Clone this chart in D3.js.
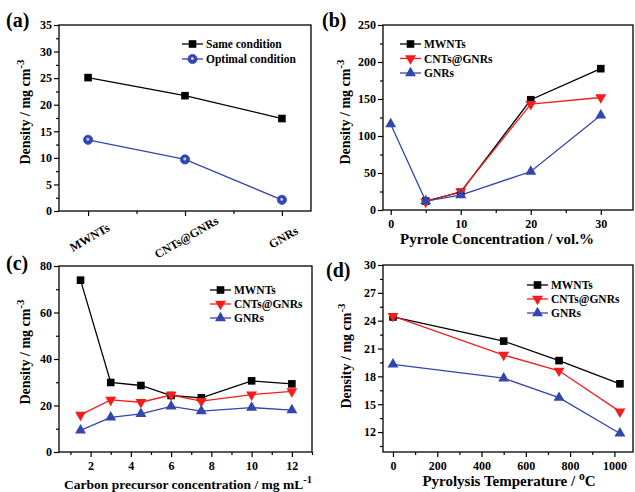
<!DOCTYPE html>
<html lang="en">
  <head>
    <meta charset="utf-8" />
    <style type="text/css">
      body {
        margin: 0;
        background: #fff;
      }
      svg text {
        font-family: "Liberation Serif", "Times New Roman", serif;
        font-weight: bold;
        fill: #000;
      }
    </style>
  </head>
  <body>
    <svg width="635" height="492"></svg>

    <script src="https://d3js.org/d3.v7.min.js" type="text/javascript"></script>
    <script type="text/javascript">
      // (a) density by material
      var catsA = ["MWNTs", "CNTs@GNRs", "GNRs"];
      var sameA = [25.1, 21.7, 17.4];
      var optimalA = [13.4, 9.7, 2.1];

      // (b) pyrrole concentration
      var pyrroleB = [0, 5, 10, 20, 30];
      var mwntsB = [null, 12, 24, 149, 191];
      var cntsB = [null, 11, 25, 143, 152];
      var gnrsB = [116, 12, 20, 52, 128];

      // (c) carbon precursor concentration
      var precursorC = [1.5, 3, 4.5, 6, 7.5, 10, 12];
      var mwntsC = [73.9, 29.9, 28.6, 24.3, 23.3, 30.6, 29.3];
      var cntsC = [16.0, 22.4, 21.4, 24.5, 21.9, 24.7, 26.1];
      var gnrsC = [9.3, 14.9, 16.4, 19.6, 17.6, 19.1, 18.0];

      // (d) pyrolysis temperature
      var tempD = [0, 500, 750, 1025];
      var mwntsD = [24.4, 21.8, 19.7, 17.2];
      var cntsD = [24.5, 20.3, 18.6, 14.2];
      var gnrsD = [19.3, 17.8, 15.7, 11.85];

      var BLACK = "#000000",
        RED = "#f41d1d",
        BLUE = "#3346ad";

      var svg = d3.select("svg");

      var defs = svg.append("defs");
      var grad = defs
        .append("radialGradient")
        .attr("id", "sphere")
        .attr("cx", "48%")
        .attr("cy", "45%")
        .attr("r", "55%");
      grad.append("stop").attr("offset", "0%").attr("stop-color", "#f0f2ff");
      grad.append("stop").attr("offset", "18%").attr("stop-color", "#b7c0ea");
      grad.append("stop").attr("offset", "40%").attr("stop-color", BLUE);

      function range(a, b, step) {
        var out = [];
        for (var v = a; v <= b + 1e-9; v += step) out.push(+v.toFixed(4));
        return out;
      }

      function marker(g, shape, cx, cy, color) {
        if (shape === "square") {
          g.append("rect")
            .attr("x", cx - 3.8)
            .attr("y", cy - 3.8)
            .attr("width", 7.6)
            .attr("height", 7.6)
            .attr("fill", color);
        } else if (shape === "sphere") {
          g.append("circle")
            .attr("cx", cx)
            .attr("cy", cy)
            .attr("r", 4.6)
            .attr("fill", "url(#sphere)")
            .attr("stroke", BLUE)
            .attr("stroke-width", 0.8);
        } else {
          g.append("path")
            .attr("d", d3.symbol().type(d3.symbolTriangle).size(52)())
            .attr("fill", color)
            .attr(
              "transform",
              "translate(" + cx + "," + cy + ")" + (shape === "down" ? " rotate(180)" : "")
            );
        }
      }

      function drawPanel(p) {
        var g = svg.append("g");
        var x = d3.scaleLinear().domain(p.xDomain).range([p.left, p.right]);
        var y = d3.scaleLinear().domain(p.yDomain).range([p.bottom, p.top]);

        // minor ticks
        g.append("g")
          .attr("transform", "translate(" + p.left + ",0)")
          .call(d3.axisLeft(y).tickValues(p.yMinor).tickSize(3).tickFormat(""));
        g.append("g")
          .attr("transform", "translate(0," + p.bottom + ")")
          .call(d3.axisBottom(x).tickValues(p.xMinor).tickSize(3).tickFormat(""));

        // major ticks
        g.append("g")
          .attr("transform", "translate(" + p.left + ",0)")
          .call(d3.axisLeft(y).tickValues(p.yMajor).tickSize(5).tickPadding(2));
        var xa = g
          .append("g")
          .attr("transform", "translate(0," + p.bottom + ")")
          .call(
            d3
              .axisBottom(x)
              .tickValues(p.xMajor)
              .tickSize(5)
              .tickPadding(4)
              .tickFormat(p.xFormat || d3.format("d"))
          );

        g.selectAll(".domain").remove();
        g.selectAll(".tick line").attr("stroke", "#000").attr("stroke-width", 1.2);
        g.selectAll(".tick text").attr("font-size", 12);

        if (p.rotateX) {
          xa.selectAll(".tick text")
            .attr("text-anchor", "middle")
            .attr("dy", 0)
            .attr("y", 0)
            .attr("transform", "translate(3,30) rotate(-30)");
        }

        // frame
        g.append("rect")
          .attr("x", p.left)
          .attr("y", p.top)
          .attr("width", p.right - p.left)
          .attr("height", p.bottom - p.top)
          .attr("fill", "none")
          .attr("stroke", "#000")
          .attr("stroke-width", 1.3);

        // series
        p.series.forEach(function (s) {
          var pts = s.values
            .map(function (v, i) {
              return { x: p.xs[i], y: v };
            })
            .filter(function (d) {
              return d.y !== null;
            });
          g.append("path")
            .datum(pts)
            .attr("fill", "none")
            .attr("stroke", s.color)
            .attr("stroke-width", 1.3)
            .attr(
              "d",
              d3
                .line()
                .x(function (d) {
                  return x(d.x);
                })
                .y(function (d) {
                  return y(d.y);
                })
            );
        });
        p.series.forEach(function (s) {
          s.values.forEach(function (v, i) {
            if (v === null) return;
            marker(g, s.shape, x(p.xs[i]), y(v), s.color);
          });
        });

        // legend
        p.series.forEach(function (s, i) {
          var ly = p.legend.y + i * p.legend.dy;
          g.append("line")
            .attr("x1", p.legend.x)
            .attr("x2", p.legend.x + 21)
            .attr("y1", ly)
            .attr("y2", ly)
            .attr("stroke", s.color)
            .attr("stroke-width", 1.3);
          marker(g, s.shape, p.legend.x + 10.5, ly, s.color);
          g.append("text")
            .attr("x", p.legend.x + 24)
            .attr("y", ly)
            .attr("dy", "0.35em")
            .attr("font-size", 11.5)
            .text(s.name);
        });

        // panel label
        g.append("text")
          .attr("x", p.label.x)
          .attr("y", p.label.y)
          .attr("font-size", 20)
          .text(p.label.text);

        // y title
        var yt = g
          .append("text")
          .attr("text-anchor", "middle")
          .attr("font-size", 14)
          .attr("transform", "translate(" + p.yTitle.x + "," + p.yTitle.y + ") rotate(-90)");
        yt.append("tspan").text("Density / mg cm");
        yt.append("tspan").attr("dy", -6).attr("font-size", 11).text("-3");

        // x title
        if (p.xTitle) {
          var xt = g
            .append("text")
            .attr("text-anchor", "middle")
            .attr("font-size", p.xTitle.size)
            .attr("x", p.xTitle.x)
            .attr("y", p.xTitle.y);
          xt.append("tspan").text(p.xTitle.text);
          if (p.xTitle.sup) {
            xt.append("tspan")
              .attr("dy", -6)
              .attr("font-size", p.xTitle.size * 0.78)
              .text(p.xTitle.sup);
            if (p.xTitle.after) xt.append("tspan").attr("dy", 6).text(p.xTitle.after);
          }
        }
      }

      drawPanel({
        left: 59, right: 311, top: 25, bottom: 211,
        xDomain: [0.7, 3.3], yDomain: [0, 35],
        xs: [1, 2, 3],
        xMajor: [1, 2, 3], xMinor: [1.5, 2.5],
        xFormat: function (d) { return catsA[d - 1]; },
        rotateX: true,
        yMajor: range(0, 35, 5), yMinor: range(2.5, 32.5, 5),
        series: [
          { name: "Same condition", values: sameA, color: BLACK, shape: "square" },
          { name: "Optimal condition", values: optimalA, color: BLUE, shape: "sphere" }
        ],
        legend: { x: 182, y: 44, dy: 15 },
        label: { x: 6, y: 27, text: "(a)" },
        yTitle: { x: 30, y: 112 }
      });

      drawPanel({
        left: 383, right: 633, top: 25, bottom: 210,
        xDomain: [-1.1, 34.6], yDomain: [0, 250],
        xs: pyrroleB,
        xMajor: [0, 10, 20, 30], xMinor: [5, 15, 25],
        yMajor: range(0, 250, 50), yMinor: range(25, 225, 50),
        series: [
          { name: "MWNTs", values: mwntsB, color: BLACK, shape: "square" },
          { name: "CNTs@GNRs", values: cntsB, color: RED, shape: "down" },
          { name: "GNRs", values: gnrsB, color: BLUE, shape: "up" }
        ],
        legend: { x: 400, y: 44, dy: 14.5 },
        label: { x: 322, y: 27, text: "(b)" },
        yTitle: { x: 350, y: 112 },
        xTitle: { x: 497, y: 244, size: 15, text: "Pyrrole Concentration / vol.%" }
      });

      drawPanel({
        left: 59, right: 312, top: 266, bottom: 452,
        xDomain: [0.43, 13], yDomain: [0, 80],
        xs: precursorC,
        xMajor: range(2, 12, 2), xMinor: range(1, 13, 2),
        yMajor: range(0, 80, 20), yMinor: range(10, 70, 20),
        series: [
          { name: "MWNTs", values: mwntsC, color: BLACK, shape: "square" },
          { name: "CNTs@GNRs", values: cntsC, color: RED, shape: "down" },
          { name: "GNRs", values: gnrsC, color: BLUE, shape: "up" }
        ],
        legend: { x: 210, y: 290, dy: 14 },
        label: { x: 6, y: 270, text: "(c)" },
        yTitle: { x: 30, y: 352 },
        xTitle: { x: 188, y: 489, size: 13.5, text: "Carbon precursor concentration / mg mL", sup: "-1" }
      });

      drawPanel({
        left: 383, right: 633, top: 265, bottom: 452,
        xDomain: [-45, 1084], yDomain: [9.85, 30],
        xs: tempD,
        xMajor: range(0, 1000, 200), xMinor: range(100, 900, 200),
        yMajor: range(12, 30, 3), yMinor: range(10.5, 28.5, 3),
        series: [
          { name: "MWNTs", values: mwntsD, color: BLACK, shape: "square" },
          { name: "CNTs@GNRs", values: cntsD, color: RED, shape: "down" },
          { name: "GNRs", values: gnrsD, color: BLUE, shape: "up" }
        ],
        legend: { x: 527, y: 285, dy: 14 },
        label: { x: 326, y: 277, text: "(d)" },
        yTitle: { x: 351, y: 356 },
        xTitle: { x: 509, y: 486, size: 15, text: "Pyrolysis Temperature / ", sup: "o", after: "C" }
      });
    </script>
  </body>
</html>
